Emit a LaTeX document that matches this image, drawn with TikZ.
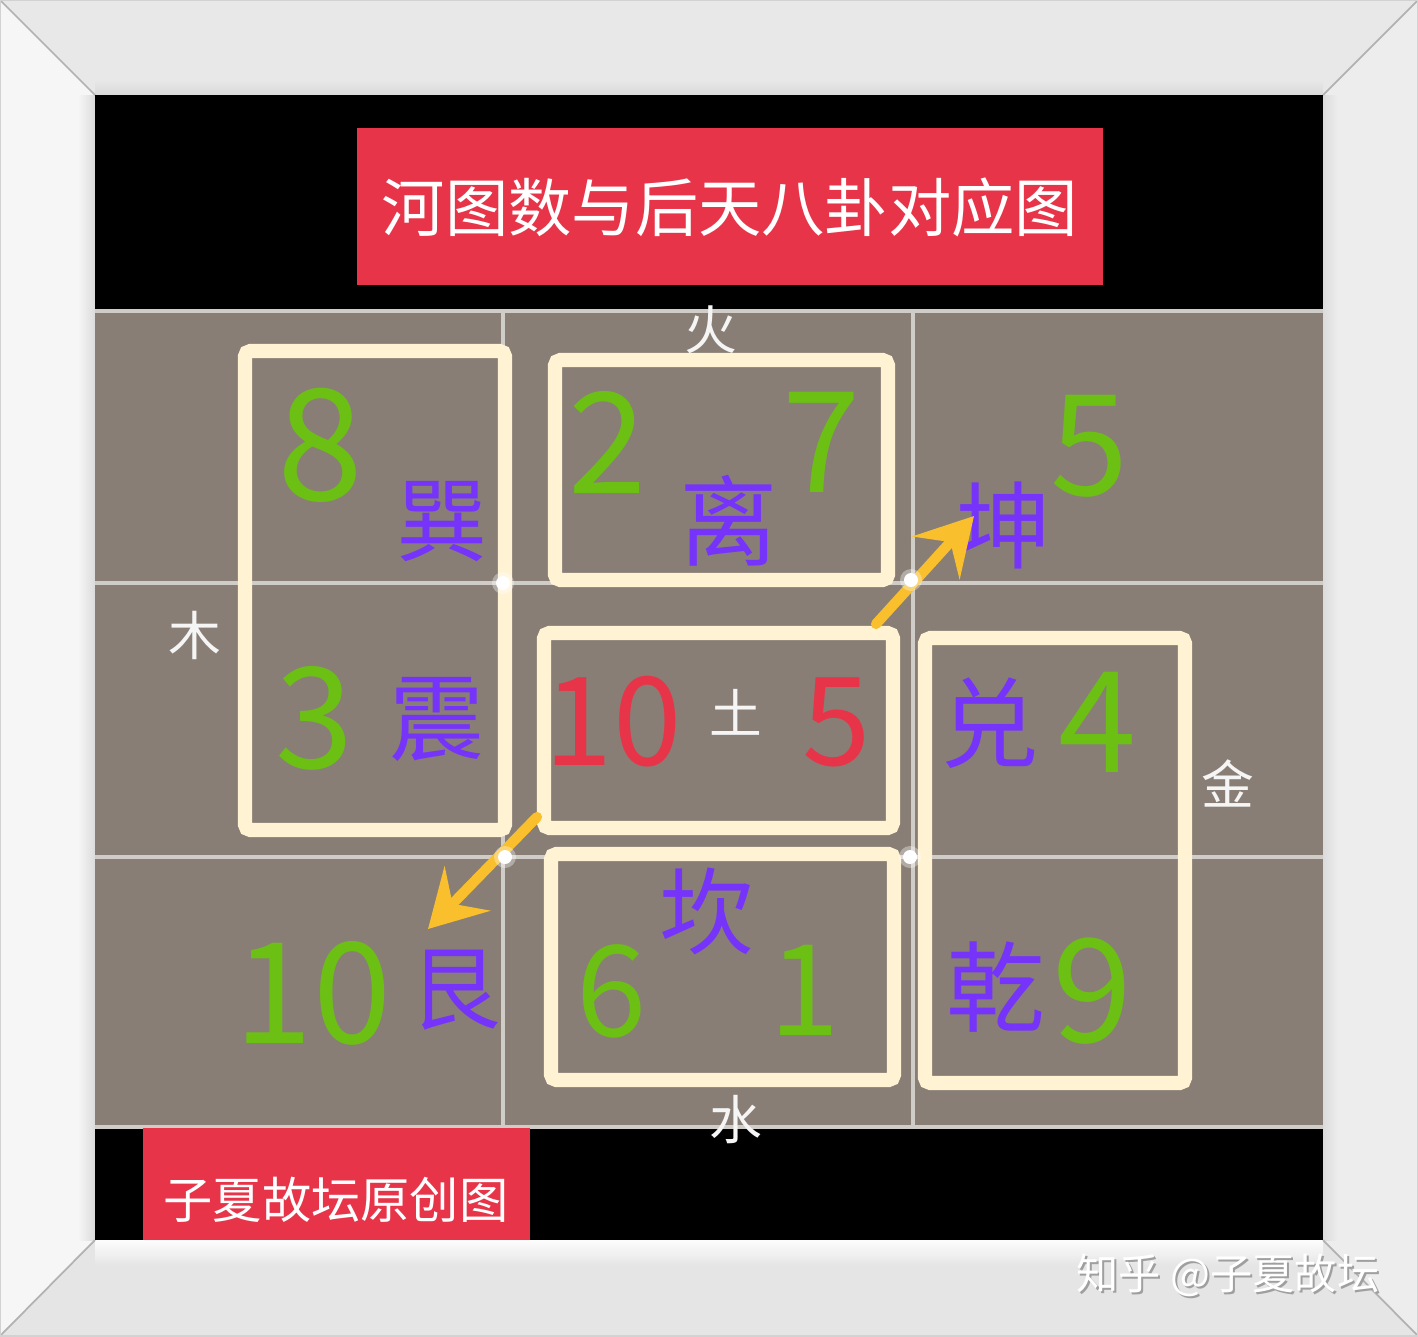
\documentclass[tikz,border=0pt]{standalone}
\usepackage{fontspec}
\newfontfamily\cjk{Noto Sans CJK SC}
\usetikzlibrary{arrows.meta}

\definecolor{gridbg}{RGB}{136,126,117}
\definecolor{gridln}{RGB}{208,204,200}
\definecolor{cream}{RGB}{255,243,212}
\definecolor{hgreen}{RGB}{108,192,20}
\definecolor{gpurple}{RGB}{118,52,250}
\definecolor{tred}{RGB}{232,52,72}
\definecolor{ayel}{RGB}{249,191,44}

\newcommand{\grn}[1]{\node[text=hgreen, inner sep=0pt, font=\cjk\fontsize{#1}{#1}\selectfont]}
\newcommand{\rdn}[1]{\node[text=tred, inner sep=0pt, font=\cjk\fontsize{#1}{#1}\selectfont]}
\newcommand{\gua}[1]{\node[text=gpurple, inner sep=0pt, font=\cjk\fontsize{#1}{#1}\selectfont]}
\newcommand{\wtl}{\node[text=white!92!gray, inner sep=0pt, font=\cjk\fontsize{15pt}{15pt}\selectfont]}

\tikzset{
    crbox/.style={draw=cream, line width=4pt, rounded corners=1.5pt},
    gline/.style={draw=gridln, line width=0.9pt},
    yarrow/.style={draw=ayel, line width=2.9pt, line cap=round,
        -{Stealth[length=16pt, width=18pt, inset=6pt]}},
}

\begin{document}
\begin{tikzpicture}[x=0.01cm, y=-0.01cm]
        \useasboundingbox (0,0) rectangle (1418,1336);

        % frame
        \fill[white!82!gray] (0,0) -- (1418,0) -- (1323,95) -- (95,95) -- cycle;
        \fill[white!93!gray] (0,0) -- (95,95) -- (95,1240) -- (0,1336) -- cycle;
        \fill[white!80!gray] (0,1336) -- (95,1240) -- (1323,1240) -- (1418,1336) -- cycle;
        \fill[white!86!gray] (1418,0) -- (1323,95) -- (1323,1240) -- (1418,1336) -- cycle;
        \shade[left color=white!93!gray, right color=white!72!gray] (78,95) rectangle (95,1240);
        \shade[left color=white!72!gray, right color=white!86!gray] (1323,95) rectangle (1338,1240);
        \shade[top color=white!98!gray, bottom color=white!80!gray] (95,1240) rectangle (1323,1265);
        \shade[top color=white!82!gray, bottom color=white!70!gray] (95,80) rectangle (1323,95);
        \draw[gray!60, line width=0.5pt]
            (0,0) -- (95,95)
            (1418,0) -- (1323,95)
            (0,1336) -- (95,1240)
            (1418,1336) -- (1323,1240)
            ;
        \draw[gray!35, line width=0.6pt] (0,0) rectangle (1418,1336);
        \fill[black] (95,95) rectangle (1323,1240);

        % grid
        \fill[gridbg] (95,311) rectangle (1323,1127);
        \draw[gline]
            (503,311) -- (503,1127)
            (913,311) -- (913,1127)
            (95,583) -- (1323,583)
            (95,857) -- (1323,857)
            (95,311) -- (1323,311)
            (95,1127) -- (1323,1127)
            ;

        % title and signature
        \fill[tred] (357,128) rectangle (1103,285);
        \node[text=white, font=\cjk\fontsize{18pt}{18pt}\selectfont] (title) at (730,207) {河图数与后天八卦对应图};
        \fill[tred] (143,1128) rectangle (530,1240);
        \node[text=white, font=\cjk\fontsize{14pt}{14pt}\selectfont] (sig) at (336,1200) {子夏故坛原创图};

        % boxes
        \draw[crbox] (245,351) rectangle (505,830);
        \draw[crbox] (555,360) rectangle (888,580);
        \draw[crbox] (544,633) rectangle (893,828);
        \draw[crbox] (551,854) rectangle (894,1080);
        \draw[crbox] (925,638) rectangle (1185,1083);

        % numbers
        \grn{44pt} (n8) at (320,445) {8};
        \grn{40pt} (n3) at (315,718) {3};
        \grn{40pt} (n2) at (608,442) {2};
        \grn{40pt} (n7) at (822,442) {7};
        \grn{40pt} (n5) at (1090,446) {5};
        \grn{40pt} (n4) at (1098,722) {4};
        \grn{41pt} (n9) at (1092,991) {9};
        \grn{40pt} (n10) at (313,993) {10};
        \grn{36pt} (n6) at (612,991) {6};
        \grn{36pt} (n1) at (805,990) {1};
        \rdn{35pt} (r10) at (613,722) {10};
        \rdn{35pt} (r5) at (837,722) {5};

        % trigrams
        \gua{26pt} (xun) at (442,522) {巽};
        \gua{27pt} (zhen) at (437,719) {震};
        \gua{28pt} (li) at (729,521) {离};
        \gua{27pt} (kun) at (1004,525) {坤};
        \gua{28pt} (dui) at (990,723) {兑};
        \gua{28pt} (qian) at (996,987) {乾};
        \gua{27pt} (kan) at (707,911) {坎};
        \gua{26pt} (gen) at (455,990) {艮};

        % elements
        \wtl (huo) at (711,330) {火};
        \wtl (mu) at (195,635) {木};
        \wtl (tu) at (736,712) {土};
        \wtl (jin) at (1228,783) {金};
        \wtl (shui) at (736,1120) {水};

        % arrows
        \coordinate (a1s) at (876,624);
        \coordinate (a1e) at (974,516);
        \coordinate (a2s) at (537,817);
        \coordinate (a2e) at (428,929);
        \draw[yarrow] (a1s) -- (a1e);
        \draw[yarrow] (a2s) -- (a2e);

        % dots
        \foreach \x/\y in {503/583, 911/580, 505/857, 910/857} {
            \fill[white, opacity=0.35] (\x,\y) circle (11);
            \fill[white] (\x,\y) circle (7);
        }

        % watermark
        \node[text=gray!75, font=\cjk\fontsize{12pt}{12pt}\selectfont] (wms) at (1230,1277) {知乎 @子夏故坛};
        \node[text=white, font=\cjk\fontsize{12pt}{12pt}\selectfont] (wm) at (1228,1275) {知乎 @子夏故坛};
    \end{tikzpicture}
\end{document}
